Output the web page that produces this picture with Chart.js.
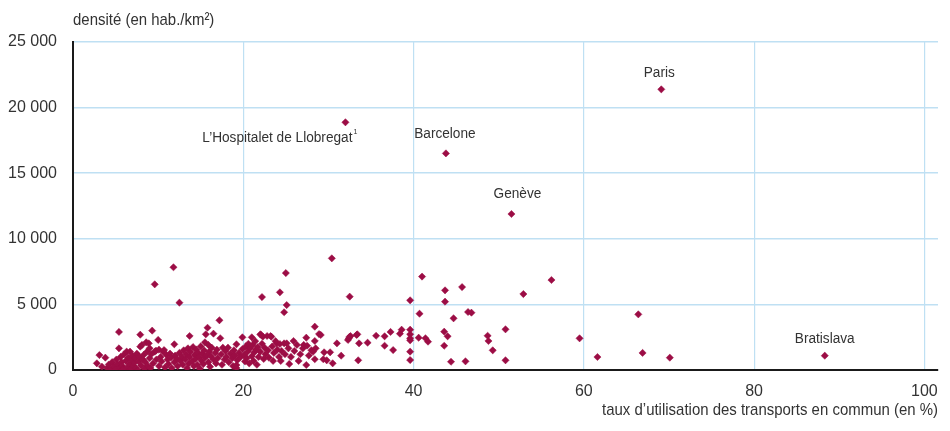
<!DOCTYPE html>
<html lang="fr">
<head>
<meta charset="utf-8">
<script src="https://cdn.jsdelivr.net/npm/chart.js@4/dist/chart.umd.min.js"></script>
<style>
  html, body { margin: 0; padding: 0; background: #ffffff; }
  #wrap { width: 950px; height: 431px; position: relative; }
</style>
</head>
<body>
<div id="wrap"><canvas id="chart"></canvas></div>
<script>
// Taux d'utilisation des transports en commun (en %) des villes
const transitShare = [
  2.8, 3.1, 3.8, 3.4, 4.0, 4.2, 4.5, 4.6, 4.8, 5.0, 5.1, 5.2, 5.4, 5.4, 5.5, 5.6, 5.7, 5.8, 5.9, 6.0,
  6.2, 6.3, 6.4, 6.5, 6.6, 6.7, 6.8, 6.9, 7.0, 7.1, 7.2, 7.3, 7.4, 7.5, 7.6, 7.7, 7.8, 7.9, 7.9, 8.0,
  8.1, 8.2, 8.3, 8.4, 8.5, 8.6, 8.7, 8.8, 8.9, 9.0, 9.0, 9.1, 9.3, 9.2,
  9.4, 9.6, 9.6, 9.75, 9.8, 10.0, 10.1, 10.1, 10.3, 10.4, 10.6, 10.7, 10.8, 11.0, 11.1, 11.2, 11.4, 11.5,
  11.6, 11.8, 11.9, 11.9, 12.0, 12.2, 12.3, 12.5, 12.5, 12.6, 12.8, 12.9, 13.0,
  13.2, 13.3, 13.4, 13.5, 13.6, 13.7, 13.7, 13.8, 14.0, 14.1, 14.2, 14.3, 14.4, 14.5, 14.6, 14.7, 14.8,
  14.9, 15.0, 15.1, 15.2, 15.3, 15.4, 15.5, 15.5, 15.6, 15.7, 15.8, 15.9, 15.9, 16.0, 16.1, 16.2, 16.3,
  16.5, 16.5, 16.7, 16.8, 16.9,
  17.0, 17.2, 17.3, 17.4, 17.5, 17.6, 17.8, 17.9, 18.0, 18.2, 18.3, 18.5, 18.7, 18.8, 18.9, 19.0, 19.2,
  19.2, 19.2, 19.3, 19.5, 19.7, 19.9, 19.9,
  20.1, 20.2, 20.3, 20.4, 20.5, 20.6, 20.7, 20.8, 21.0, 21.0, 21.1, 21.2, 21.3, 21.4, 21.5, 21.6, 21.7,
  21.8, 22.0, 22.0, 22.1, 22.2, 22.2, 22.3, 22.4, 22.5, 22.6, 22.8, 22.9, 23.0,
  23.2, 23.3, 23.4, 23.5, 23.6, 23.8, 23.9, 24.0, 24.2, 24.3, 24.3, 24.4, 24.5, 24.8, 24.8, 24.9, 25.0,
  25.1, 25.1, 25.3, 25.4, 25.6, 25.9, 26.0, 26.3, 26.5, 26.7, 27.0, 27.1, 27.4, 27.4, 27.5, 27.7, 28.0,
  28.2, 28.4, 28.4, 28.4, 28.5, 28.9, 29.1, 29.4, 29.5, 29.8, 30.2, 30.4, 30.5, 31.0, 31.5, 32.3, 32.4,
  32.5, 32.5, 32.6, 33.3, 33.4, 33.5, 33.6, 34.6, 35.6, 36.6, 36.6, 37.3, 37.6, 38.4, 38.6, 39.6, 39.6,
  39.6, 39.6, 39.6, 39.6, 39.6,
  40.6, 40.7, 41.0, 41.4, 41.7, 43.6, 43.6, 43.7, 43.7, 44.0, 44.4, 44.7, 45.7, 46.1, 46.4, 46.8, 48.7,
  48.8, 49.3, 50.8, 50.8, 52.9, 56.2, 59.5, 61.6, 66.4, 66.9, 70.1
];

// Densité (en hab./km²), dans le même ordre
const density = [
  510, 1140, 940, 250, 150, 420, 80, 600, 250, 30, 800, 450, 1650, 2900, 150, 1000, 600, 300, 50, 1200,
  700, 1400, 200, 950, 450, 1400, 80, 750, 1100, 300, 550, 900, 150, 1250, 0, 650, 1000, 1780, 2690, 350,
  1910, 800, 1150, 100, 600, 2110, 1400, 300, 2030, 1650, 900, 150, 3000, 1200,
  500, 6530, 1400, 1470, 800, 2290, 1550, 300, 1000, 650, 1400, 1520, 200, 1140, 800, 450, 1250, 950,
  150, 7830, 1960, 600, 1100, 850, 300, 5130, 1300, 700, 1000, 400, 1500,
  800, 1200, 150, 1650, 500, 2590, 1000, 1400, 650, 1750, 300, 1150, 850, 1550, 400, 1300, 1000,
  100, 1800, 700, 1250, 450, 1500, 2110, 950, 2720, 1100, 3220, 1910, 600, 1400, 250, 1050, 1700,
  2770, 800, 1300, 500, 1550,
  900, 3790, 2420, 1200, 400, 1700, 800, 1450, 1000, 1700, 600, 1250, 900, 300, 1500, 1100, 1960,
  380, 150, 750, 1300, 1000, 2490, 1600,
  1150, 650, 1800, 900, 1400, 2000, 500, 1650, 2490, 1050, 1900, 700, 1350, 2200, 1550, 400, 1750,
  1000, 2720, 1400, 2670, 5560, 2000, 2540, 840, 1700, 1200, 2590, 1500, 950,
  2590, 2540, 1800, 690, 1300, 2200, 2030, 1550, 1000, 5920, 1980, 690, 1450, 4400, 2030, 1200, 7390,
  4950, 2030, 1650, 460, 1000, 2210, 1450, 1910, 690, 1200, 1650, 1910, 2460, 380, 1850, 1100, 1500,
  1400, 3300, 2210, 820, 1650, 2740, 2670, 820, 1350, 740, 1350, 8510, 510, 2030, 1090, 2290, 2420,
  2540, 5590, 2590, 2670, 2720, 740, 2030, 2080, 2610, 2570, 1850, 2900, 1520, 2770, 3070, 3070, 2720,
  2420, 2260, 1400, 760, 5310,
  2460, 4290, 7120, 2420, 2160, 2920, 1850, 6070, 5210, 2570, 630, 3940, 6320, 660, 4420, 4370, 2610,
  2210, 1500, 3100, 740, 5790, 6860, 2415, 990, 4240, 1300, 940
];

// Villes nommées sur le graphique
const namedCities = ['Paris', 'L\u2019Hospitalet de Llobregat', 'Barcelone', 'Genève', 'Bratislava'];
const namedNotes = ['', '1', '', '', ''];
const namedShare = [69.1, 32.0, 43.8, 51.5, 88.3];
const namedDensity = [21390, 18880, 16510, 11890, 1090];

const xTicks = [0, 20, 40, 60, 80, 100];
const yTicks = [0, 5000, 10000, 15000, 20000, 25000];

const yTitle = 'densité (en hab./km²)';
const xTitle = 'taux d\u2019utilisation des transports en commun (en %)';

const FONT = '"Liberation Sans", Arial, sans-serif';
const TEXT = '#333333';
const MARK = '#9c0d45';
const GRID = '#bfe0f3';
const SQUEEZE = 0.88;   // horizontal compression for a condensed look

// Position of each city name relative to its point: [dx, dy, align]
const labelPlacement = [
  [-2, -17, 'center'],
  [7, 15, 'right'],
  [-1, -20, 'center'],
  [6, -20, 'center'],
  [0, -17, 'center']
];

const points = transitShare.map((x, i) => ({ x, y: density[i] }));
const namedPoints = namedShare.map((x, i) => ({ x, y: namedDensity[i] }));

function fmtThousands(v) {
  return String(v).replace(/\B(?=(\d{3})+(?!\d))/g, ' ');
}

// Draws text condensed horizontally, anchored at (x, y)
function condensedText(ctx, text, x, y, align) {
  ctx.save();
  ctx.translate(x, y);
  ctx.scale(SQUEEZE, 1);
  ctx.textAlign = align;
  ctx.fillText(text, 0, 0);
  ctx.restore();
}

const annotations = {
  id: 'annotations',
  afterDatasetsDraw(chart) {
    const { ctx, scales: { x, y }, chartArea } = chart;
    ctx.save();
    ctx.fillStyle = TEXT;
    ctx.textBaseline = 'middle';
    namedCities.forEach((name, i) => {
      const [dx, dy, align] = labelPlacement[i];
      const px = x.getPixelForValue(namedShare[i]) + dx;
      const py = y.getPixelForValue(namedDensity[i]) + dy;
      ctx.font = '15.5px ' + FONT;
      condensedText(ctx, name, px, py, align);
      if (namedNotes[i]) {
        ctx.font = '8px ' + FONT;
        condensedText(ctx, namedNotes[i], px + 1, py - 5, 'left');
      }
    });
    ctx.font = '17px ' + FONT;
    condensedText(ctx, yTitle, chartArea.left, 20, 'left');
    condensedText(ctx, xTitle, chartArea.right, 410, 'right');
    ctx.restore();
  }
};

new Chart(document.getElementById('chart'), {
  type: 'scatter',
  data: {
    datasets: [
      {
        data: points,
        pointStyle: 'rectRot',
        pointRadius: 3.6,
        pointBackgroundColor: MARK,
        pointBorderColor: MARK,
        pointBorderWidth: 0.5,
        pointHoverRadius: 3.6
      },
      {
        data: namedPoints,
        pointStyle: 'rectRot',
        pointRadius: 3.6,
        pointBackgroundColor: MARK,
        pointBorderColor: MARK,
        pointBorderWidth: 0.5,
        pointHoverRadius: 3.6
      }
    ]
  },
  options: {
    responsive: true,
    maintainAspectRatio: false,
    animation: false,
    events: [],
    layout: { padding: { left: 0, top: 42, right: 12, bottom: 0 } },
    plugins: { legend: { display: false }, tooltip: { enabled: false } },
    scales: {
      x: {
        type: 'linear',
        min: 0,
        max: 101.6,
        afterBuildTicks(scale) { scale.ticks = xTicks.map(v => ({ value: v })); },
        afterFit(scale) { scale.height = 61; },
        grid: { color: GRID, lineWidth: 1.2, drawTicks: false },
        border: { color: '#1a1a1a', width: 2 },
        ticks: {
          padding: 12,
          color: TEXT,
          font: { family: FONT, size: 16 },
          maxRotation: 0,
          callback: v => String(v)
        }
      },
      y: {
        type: 'linear',
        min: 0,
        max: 25000,
        afterBuildTicks(scale) { scale.ticks = yTicks.map(v => ({ value: v })); },
        afterFit(scale) { scale.width = 73; },
        grid: { color: GRID, lineWidth: 1.6, drawTicks: false },
        border: { color: '#1a1a1a', width: 2 },
        ticks: {
          padding: 16,
          color: TEXT,
          font: { family: FONT, size: 16 },
          callback: v => fmtThousands(v)
        }
      }
    }
  },
  plugins: [annotations]
});
</script>
</body>
</html>
